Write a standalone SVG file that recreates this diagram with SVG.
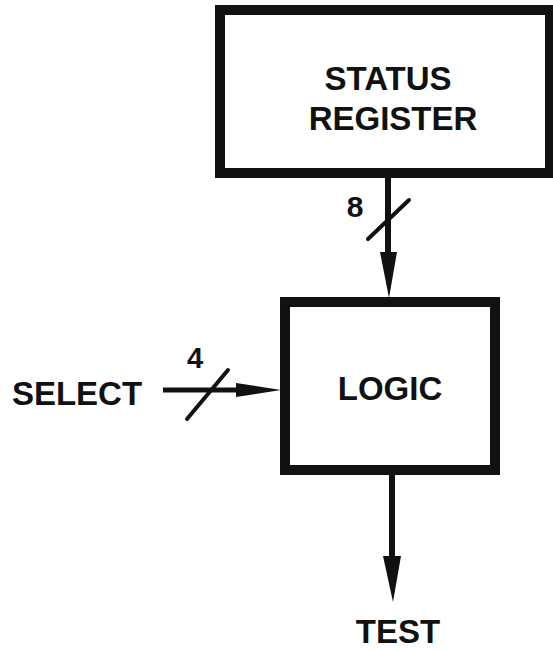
<svg xmlns="http://www.w3.org/2000/svg" width="553" height="652" viewBox="0 0 553 652">
<style>
.box{fill:#fff;stroke:#111;stroke-width:10}
.lbl{font-family:"Liberation Sans",Arial,sans-serif;font-weight:bold;fill:#111;text-anchor:middle}
.wire{stroke:#111;stroke-width:6;fill:none}
.slash{stroke:#111;stroke-width:4;stroke-linecap:round;fill:none}
.head{fill:#111}
</style>
<rect width="553" height="652" fill="#fff"/>
<g id="connectors">
<line class="wire" x1="388" y1="178" x2="388" y2="256"/>
<polygon class="head" points="380,252 397,252 389,298"/>
<line class="slash" x1="368" y1="239" x2="409" y2="200"/>
<text class="lbl" x="355" y="217" font-size="30">8</text>
<line class="wire" x1="163" y1="390" x2="240" y2="390" style="stroke-width:5"/>
<polygon class="head" points="236,383 236,397 281,390"/>
<line class="slash" x1="187" y1="419" x2="228" y2="370"/>
<text class="lbl" x="195" y="368" font-size="29">4</text>
<line class="wire" x1="392" y1="475" x2="392" y2="560"/>
<polygon class="head" points="383,556 401,556 393,602"/>
</g>
<g id="status-register">
<rect class="box" x="220" y="10" width="330" height="163"/>
<text class="lbl" x="388" y="90" font-size="33">STATUS</text>
<text class="lbl" x="393" y="130" font-size="33">REGISTER</text>
</g>
<g id="logic">
<rect class="box" x="285" y="302" width="210" height="168"/>
<text class="lbl" x="390" y="400" font-size="33">LOGIC</text>
</g>
<g id="select">
<text class="lbl" x="77" y="405" font-size="33">SELECT</text>
</g>
<g id="test">
<text class="lbl" x="398" y="643" font-size="33">TEST</text>
</g>
</svg>
